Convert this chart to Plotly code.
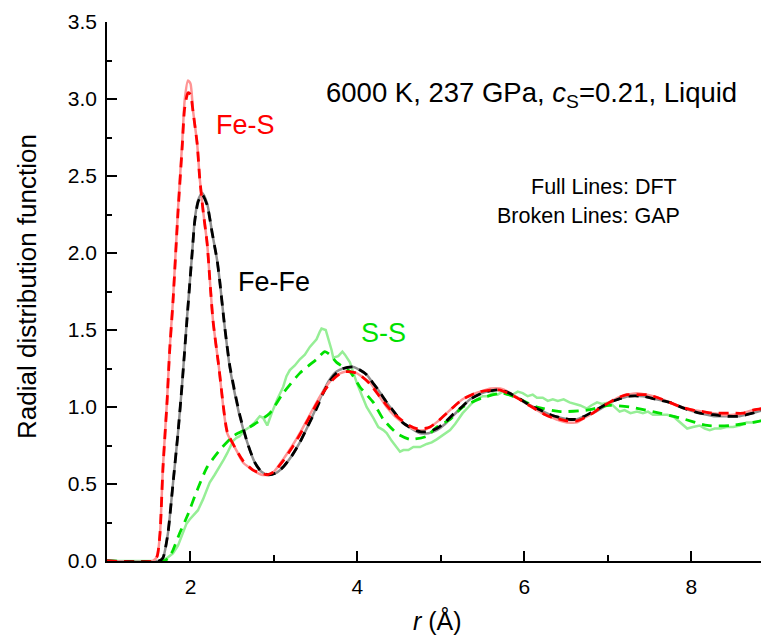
import plotly.graph_objects as go

# ---------------- data ----------------
fes_dft_r = [1.0, 1.55, 1.60, 1.635, 1.67, 1.72, 1.75, 1.79, 1.85, 1.90, 1.93, 1.97, 2.00, 2.03, 2.08, 2.11,
             2.15, 2.20, 2.23, 2.27, 2.34, 2.44, 2.53, 2.63, 2.75, 2.85, 2.92, 3.00, 3.11, 3.21, 3.31, 3.41,
             3.51, 3.61, 3.71, 3.80, 3.87, 3.99, 4.07, 4.15, 4.25, 4.35, 4.45, 4.54, 4.62, 4.71, 4.80, 4.87,
             4.97, 5.07, 5.17, 5.26, 5.37, 5.47, 5.60, 5.71, 5.80, 5.91, 6.03, 6.15, 6.25, 6.34, 6.43, 6.51,
             6.63, 6.72, 6.82, 6.92, 7.02, 7.12, 7.23, 7.35, 7.47, 7.60, 7.74, 7.88, 8.02, 8.14, 8.26, 8.38,
             8.50, 8.62, 8.74, 8.85, 8.93]
fes_dft_g = [0.0, 0.0, 0.03, 0.18, 0.61, 1.05, 1.37, 1.69, 2.28, 2.71, 2.99, 3.12, 3.10, 2.93, 2.71, 2.49,
             2.28, 2.06, 1.84, 1.56, 1.26, 0.83, 0.74, 0.64, 0.59, 0.56, 0.56, 0.58, 0.66, 0.74, 0.83, 0.93,
             1.03, 1.12, 1.19, 1.22, 1.23, 1.22, 1.19, 1.16, 1.08, 1.00, 0.94, 0.90, 0.87, 0.85, 0.85, 0.87,
             0.91, 0.96, 1.01, 1.05, 1.08, 1.10, 1.12, 1.12, 1.10, 1.06, 1.02, 0.98, 0.95, 0.93, 0.91, 0.90,
             0.90, 0.93, 0.96, 1.00, 1.03, 1.06, 1.08, 1.09, 1.08, 1.06, 1.03, 1.00, 0.98, 0.97, 0.96, 0.95,
             0.95, 0.96, 0.98, 0.99, 1.00]

fes_gap_r = [1.0, 1.55, 1.60, 1.635, 1.67, 1.72, 1.75, 1.79, 1.85, 1.90, 1.93, 1.97, 2.00, 2.03, 2.08, 2.11,
             2.15, 2.20, 2.23, 2.27, 2.34, 2.44, 2.53, 2.63, 2.75, 2.85, 2.92, 3.00, 3.11, 3.21, 3.31, 3.41,
             3.51, 3.61, 3.71, 3.80, 3.87, 3.99, 4.07, 4.15, 4.25, 4.35, 4.45, 4.54, 4.62, 4.71, 4.80, 4.87,
             4.97, 5.07, 5.17, 5.26, 5.37, 5.47, 5.60, 5.71, 5.80, 5.91, 6.03, 6.15, 6.25, 6.34, 6.43, 6.51,
             6.63, 6.72, 6.82, 6.92, 7.02, 7.12, 7.23, 7.35, 7.47, 7.60, 7.74, 7.88, 8.02, 8.14, 8.26, 8.38,
             8.50, 8.62, 8.74, 8.85, 8.93]
fes_gap_g = [0.0, 0.0, 0.03, 0.18, 0.60, 1.04, 1.36, 1.68, 2.26, 2.68, 2.94, 3.04, 3.03, 2.92, 2.71, 2.49,
             2.28, 2.06, 1.84, 1.56, 1.26, 0.84, 0.74, 0.65, 0.59, 0.57, 0.56, 0.58, 0.65, 0.73, 0.82, 0.92,
             1.02, 1.11, 1.18, 1.22, 1.23, 1.22, 1.19, 1.15, 1.08, 1.01, 0.95, 0.91, 0.88, 0.86, 0.86, 0.87,
             0.91, 0.96, 1.01, 1.05, 1.08, 1.10, 1.11, 1.11, 1.09, 1.06, 1.02, 0.98, 0.95, 0.93, 0.92, 0.91,
             0.91, 0.93, 0.96, 1.00, 1.03, 1.06, 1.08, 1.08, 1.08, 1.06, 1.03, 1.00, 0.98, 0.97, 0.96, 0.96,
             0.96, 0.96, 0.98, 0.99, 1.00]

fefe_dft_r = [1.0, 1.62, 1.67, 1.73, 1.79, 1.85, 1.90, 1.96, 2.02, 2.05, 2.09, 2.14, 2.20, 2.26, 2.32, 2.35,
              2.41, 2.47, 2.53, 2.59, 2.68, 2.77, 2.85, 2.93, 3.02, 3.11, 3.21, 3.31, 3.41, 3.51, 3.59, 3.67,
              3.75, 3.83, 3.95, 4.03, 4.11, 4.18, 4.25, 4.35, 4.45, 4.54, 4.65, 4.75, 4.85, 4.95, 5.05, 5.14,
              5.25, 5.35, 5.45, 5.55, 5.65, 5.71, 5.82, 5.95, 6.07, 6.19, 6.31, 6.43, 6.53, 6.63, 6.72, 6.82,
              6.92, 7.02, 7.12, 7.25, 7.42, 7.58, 7.74, 7.92, 8.10, 8.27, 8.43, 8.56, 8.66, 8.80, 8.93]
fefe_dft_g = [0.0, 0.0, 0.02, 0.18, 0.50, 0.83, 1.15, 1.59, 2.00, 2.21, 2.34, 2.39, 2.32, 2.13, 1.95, 1.82,
              1.52, 1.26, 1.09, 0.94, 0.77, 0.64, 0.58, 0.56, 0.57, 0.61, 0.68, 0.77, 0.88, 1.00, 1.10, 1.18,
              1.23, 1.25, 1.26, 1.24, 1.21, 1.16, 1.11, 1.03, 0.96, 0.90, 0.86, 0.83, 0.83, 0.85, 0.89, 0.94,
              1.00, 1.05, 1.08, 1.10, 1.11, 1.11, 1.09, 1.05, 1.01, 0.98, 0.95, 0.93, 0.92, 0.92, 0.94, 0.96,
              0.99, 1.03, 1.05, 1.07, 1.07, 1.05, 1.03, 0.99, 0.96, 0.94, 0.94, 0.94, 0.95, 0.97, 0.99]

fefe_gap_r = fefe_dft_r
fefe_gap_g = [0.0, 0.0, 0.02, 0.18, 0.50, 0.83, 1.15, 1.58, 2.00, 2.20, 2.33, 2.38, 2.31, 2.13, 1.95, 1.82,
              1.52, 1.27, 1.10, 0.95, 0.77, 0.64, 0.58, 0.56, 0.57, 0.61, 0.68, 0.77, 0.88, 0.99, 1.09, 1.17,
              1.22, 1.25, 1.26, 1.24, 1.21, 1.16, 1.11, 1.03, 0.96, 0.90, 0.86, 0.84, 0.84, 0.86, 0.90, 0.95,
              1.00, 1.05, 1.08, 1.10, 1.11, 1.11, 1.09, 1.05, 1.01, 0.98, 0.95, 0.93, 0.92, 0.92, 0.94, 0.97,
              1.00, 1.03, 1.05, 1.07, 1.07, 1.05, 1.03, 0.99, 0.96, 0.95, 0.94, 0.94, 0.95, 0.97, 0.99]

ss_dft_r = [1.0, 1.66, 1.72, 1.79, 1.85, 1.91, 1.95, 1.99, 2.04, 2.09, 2.15, 2.19, 2.23, 2.29, 2.35, 2.40,
            2.44, 2.51, 2.55, 2.59, 2.65, 2.71, 2.77, 2.83, 2.87, 2.92, 2.98, 3.04, 3.11, 3.15, 3.19, 3.25,
            3.31, 3.37, 3.43, 3.48, 3.51, 3.55, 3.57, 3.62, 3.65, 3.69, 3.71, 3.77, 3.82, 3.85, 3.91, 3.95,
            3.99, 4.05, 4.11, 4.19, 4.25, 4.31, 4.35, 4.41, 4.47, 4.51, 4.55, 4.61, 4.67, 4.75, 4.83, 4.89,
            4.95, 5.03, 5.11, 5.17, 5.22, 5.26, 5.33, 5.38, 5.43, 5.50, 5.56, 5.62, 5.68, 5.74, 5.80, 5.86,
            5.92, 5.98, 6.04, 6.10, 6.15, 6.22, 6.28, 6.34, 6.40, 6.47, 6.54, 6.60, 6.67, 6.75, 6.80, 6.87,
            6.93, 7.02, 7.08, 7.14, 7.20, 7.27, 7.35, 7.42, 7.48, 7.54, 7.62, 7.71, 7.78, 7.84, 7.90, 7.95,
            8.02, 8.10, 8.16, 8.22, 8.28, 8.35, 8.42, 8.50, 8.58, 8.66, 8.74, 8.82, 8.93]
ss_dft_g = [0.0, 0.0, 0.02, 0.05, 0.10, 0.18, 0.24, 0.27, 0.30, 0.33, 0.40, 0.46, 0.51, 0.56, 0.61, 0.66,
            0.70, 0.78, 0.80, 0.81, 0.85, 0.87, 0.90, 0.94, 0.93, 0.88, 0.97, 1.05, 1.13, 1.20, 1.24, 1.27,
            1.31, 1.34, 1.39, 1.42, 1.44, 1.49, 1.51, 1.50, 1.45, 1.37, 1.32, 1.33, 1.36, 1.34, 1.29, 1.22,
            1.16, 1.08, 1.00, 0.93, 0.87, 0.85, 0.83, 0.78, 0.74, 0.71, 0.72, 0.72, 0.74, 0.74, 0.76, 0.77,
            0.79, 0.82, 0.85, 0.89, 0.93, 0.96, 1.00, 1.03, 1.05, 1.07, 1.07, 1.09, 1.08, 1.10, 1.08, 1.08,
            1.10, 1.09, 1.07, 1.08, 1.06, 1.06, 1.04, 1.05, 1.04, 1.05, 1.03, 1.02, 1.01, 0.99, 1.01, 1.03,
            1.02, 1.03, 1.00, 0.97, 0.98, 0.96, 0.97, 0.96, 0.97, 0.95, 0.95, 0.95, 0.94, 0.91, 0.88, 0.86,
            0.87, 0.88, 0.86, 0.85, 0.86, 0.86, 0.87, 0.87, 0.88, 0.90, 0.90, 0.91, 0.93]

ss_gap_r = [1.0, 1.68, 1.74, 1.79, 1.87, 1.96, 2.08, 2.20, 2.35, 2.51, 2.68, 2.80, 2.95, 3.11, 3.31, 3.51,
            3.61, 3.67, 3.75, 3.91, 4.03, 4.19, 4.31, 4.47, 4.63, 4.83, 4.95, 5.11, 5.26, 5.50, 5.74, 5.91,
            6.15, 6.43, 6.75, 7.02, 7.26, 7.62, 7.86, 8.19, 8.46, 8.74, 8.93]
ss_gap_g = [0.0, 0.0, 0.02, 0.07, 0.18, 0.29, 0.46, 0.61, 0.72, 0.81, 0.86, 0.90, 0.96, 1.09, 1.22, 1.31,
            1.36, 1.34, 1.29, 1.23, 1.13, 1.03, 0.92, 0.83, 0.79, 0.81, 0.87, 0.92, 1.00, 1.06, 1.09, 1.06,
            1.00, 0.97, 0.98, 1.01, 1.00, 0.96, 0.93, 0.88, 0.88, 0.90, 0.92]

x_range = [1.0, 8.93]
y_range = [0.0, 3.5]

# ---------------- figure ----------------
FONT = "Liberation Sans, Arial, sans-serif"
fig = go.Figure()

def add(r, g, color, dash=None, width=2.5, spline=True):
    line = dict(color=color, width=width)
    if dash:
        line["dash"] = dash
    if spline:
        line["shape"] = "spline"
        line["smoothing"] = 0.6
    fig.add_trace(go.Scatter(x=r, y=g, mode="lines", line=line, showlegend=False, hoverinfo="skip"))

add(ss_dft_r, ss_dft_g, "#96ee96", spline=False)
add(fefe_dft_r, fefe_dft_g, "#8f8f8f")
add(fes_dft_r, fes_dft_g, "#ff9494")
add(ss_gap_r, ss_gap_g, "#00e000", dash="10px,7px", width=2.8)
add(fefe_gap_r, fefe_gap_g, "#000000", dash="10px,7px", width=2.8)
add(fes_gap_r, fes_gap_g, "#ff0000", dash="10px,7px", width=2.8)

# the page body adds an 8px margin, so the figure is 8px smaller and the margins compensate
W, H = 761, 635
ML, MR, MT, MB = 99, 0, 14, 82
fig.update_layout(
    width=W, height=H,
    margin=dict(l=ML, r=MR, t=MT, b=MB),
    paper_bgcolor="white", plot_bgcolor="white",
    font=dict(family=FONT, size=21, color="black"),
    showlegend=False,
)
fig.update_xaxes(
    range=x_range, showgrid=False, zeroline=False, automargin=False,
    showline=True, linecolor="black", linewidth=2,
    ticks="inside", ticklen=10, tickwidth=1.5, tickcolor="black",
    tick0=0, dtick=2, tickfont=dict(size=21), ticklabelstandoff=6,
    minor=dict(ticks="inside", dtick=1, ticklen=6, tickwidth=1.5, tickcolor="black"),
)
fig.update_yaxes(
    range=y_range, showgrid=False, zeroline=False, automargin=False,
    showline=True, linecolor="black", linewidth=1.5,
    ticks="inside", ticklen=10, tickwidth=1.5, tickcolor="black",
    tick0=0, dtick=0.5, tickformat=".1f", tickfont=dict(size=21), ticklabelstandoff=4,
    minor=dict(ticks="inside", dtick=0.25, ticklen=5, tickwidth=1.5, tickcolor="black"),
)

# axis titles, placed by screen pixel -> paper fraction
pw, ph = W - ML - MR, H - MT - MB
def px_to_paper(sx, sy):
    fx, fy = sx - 8, sy - 8
    return (fx - ML) / pw, (H - MB - fy) / ph

ax, ay = px_to_paper(437, 620)
fig.add_annotation(x=ax, y=ay, xref="paper", yref="paper", text="<i>r</i> (Å)",
                   showarrow=False, font=dict(size=25, family=FONT), xanchor="center", yanchor="middle")
bx, by = px_to_paper(27, 287)
fig.add_annotation(x=bx, y=by, xref="paper", yref="paper", text="Radial distribution function",
                   textangle=-90, showarrow=False, font=dict(size=26, family=FONT),
                   xanchor="center", yanchor="middle")

def note(x, y, text, size, color="black", anchor="left"):
    fig.add_annotation(x=x, y=y, xref="x", yref="y", text=text, showarrow=False,
                       xanchor=anchor, yanchor="middle", font=dict(size=size, color=color, family=FONT))

note(3.60, 3.03, "6000 K, 237 GPa, <i>c</i><sub>S</sub>=0.21, Liquid", 27.5)
note(6.05, 2.43, "Full Lines: DFT", 21.5)
note(5.65, 2.24, "Broken Lines: GAP", 21.5)
note(2.28, 2.83, "Fe-S", 27, color="#ff0000")
note(2.55, 1.81, "Fe-Fe", 27, color="#000000")
note(4.02, 1.48, "S-S", 27, color="#00e000")

fig.write_html("out.html")
